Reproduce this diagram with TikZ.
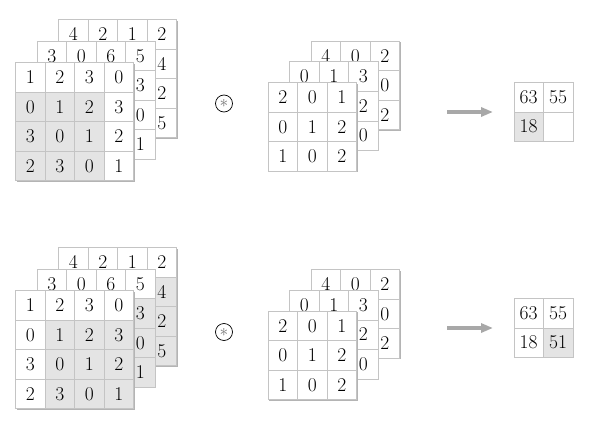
\documentclass[tikz,border=0pt]{standalone}
\usetikzlibrary{arrows.meta}
\definecolor{gridc}{RGB}{196,196,196}
\definecolor{shadec}{RGB}{228,228,228}
\definecolor{shadowc}{RGB}{180,180,180}
\definecolor{arrowc}{RGB}{168,168,168}
\tikzset{
  cell/.style={draw=gridc, line width=0.6pt, minimum size=29.5pt, inner sep=0pt,
    anchor=north west, font=\fontsize{19.5}{19.5}\selectfont},
  w/.style={fill=white},
  g/.style={fill=shadec},
  opcirc/.style={circle, draw=black, line width=0.7pt, minimum size=17pt, inner sep=0pt,
    font=\fontsize{17}{17}\selectfont},
  convarrow/.style={draw=arrowc, line width=3.2pt, -{Triangle[length=12pt,width=9pt]}}
}
% #1 name, #2 x, #3 y, #4 cols, #5 rows, #6 row lists
\newcommand\gridlayer[6]{%
  \fill[shadowc] ({#2+1.3},{#3+1.3}) rectangle ++({#4*29.5},{#5*29.5});
  \foreach \rowlist [count=\r] in {#6} {
    \foreach \v/\s [count=\c] in \rowlist {
      \node[cell,\s] (#1-\r-\c) at ({#2+(\c-1)*29.5},{#3+(\r-1)*29.5}) {\v};
    }
  }
}
\begin{document}
\begin{tikzpicture}[x=1pt,y=-1pt]
\useasboundingbox (0,0) rectangle (589,428);
% ---------- top row ----------
\gridlayer{tib}{58.3}{19.3}{4}{4}{{4/w,2/w,1/w,2/w},{/w,/w,/w,4/w},{/w,/w,/w,2/w},{/w,/w,/w,5/w}}
\gridlayer{tim}{36.8}{40.8}{4}{4}{{3/w,0/w,6/w,5/w},{/w,/w,/w,3/w},{/w,/w,/w,0/w},{/w,/w,/w,1/w}}
\gridlayer{tif}{15.3}{62.3}{4}{4}{{1/w,2/w,3/w,0/w},{0/g,1/g,2/g,3/w},{3/g,0/g,1/g,2/w},{2/g,3/g,0/g,1/w}}
\node[opcirc] (top) at (224,103.5) {\textcolor{black!55}{$\ast$}};
\gridlayer{tkb}{310.7}{40.7}{3}{3}{{4/w,0/w,2/w},{/w,/w,0/w},{/w,/w,2/w}}
\gridlayer{tkm}{289.2}{61.5}{3}{3}{{0/w,1/w,3/w},{/w,/w,2/w},{/w,/w,0/w}}
\gridlayer{tkf}{267.7}{82.3}{3}{3}{{2/w,0/w,1/w},{0/w,1/w,2/w},{1/w,0/w,2/w}}
\coordinate (ta0) at (447,112);
\coordinate (ta1) at (493,112);
\draw[convarrow] (ta0) -- (ta1);
\gridlayer{tout}{513.5}{82}{2}{2}{{63/w,55/w},{18/g,/w}}
% ---------- bottom row ----------
\gridlayer{bib}{58.3}{247.3}{4}{4}{{4/w,2/w,1/w,2/w},{/w,/g,/g,4/g},{/w,/g,/g,2/g},{/w,/g,/g,5/g}}
\gridlayer{bim}{36.8}{268.8}{4}{4}{{3/w,0/w,6/w,5/w},{/w,/g,/g,3/g},{/w,/g,/g,0/g},{/w,/g,/g,1/g}}
\gridlayer{bif}{15.3}{290.3}{4}{4}{{1/w,2/w,3/w,0/w},{0/w,1/g,2/g,3/g},{3/w,0/g,1/g,2/g},{2/w,3/g,0/g,1/g}}
\node[opcirc] (bop) at (224,332) {\textcolor{black!55}{$\ast$}};
\gridlayer{bkb}{310.7}{269.2}{3}{3}{{4/w,0/w,2/w},{/w,/w,0/w},{/w,/w,2/w}}
\gridlayer{bkm}{289.2}{290}{3}{3}{{0/w,1/w,3/w},{/w,/w,2/w},{/w,/w,0/w}}
\gridlayer{bkf}{267.7}{310.8}{3}{3}{{2/w,0/w,1/w},{0/w,1/w,2/w},{1/w,0/w,2/w}}
\coordinate (ba0) at (447,328);
\coordinate (ba1) at (493,328);
\draw[convarrow] (ba0) -- (ba1);
\gridlayer{bout}{513.5}{298}{2}{2}{{63/w,55/w},{18/w,51/g}}
\end{tikzpicture}
\end{document}
